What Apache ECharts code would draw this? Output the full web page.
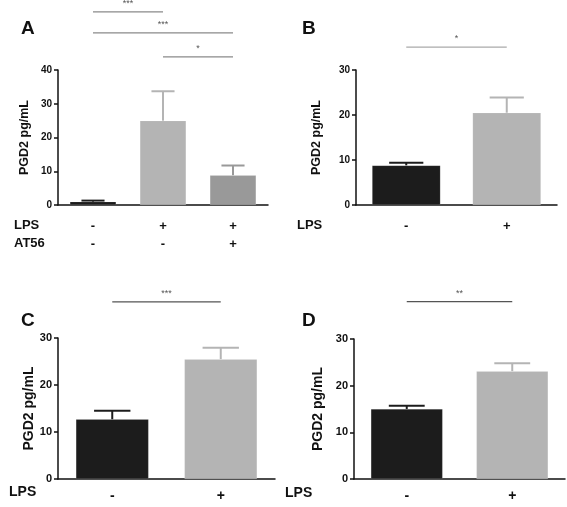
<!DOCTYPE html>
<html><head><meta charset="utf-8">
<script src="https://cdn.jsdelivr.net/npm/echarts@6/dist/echarts.min.js"></script>
<style>html,body{margin:0;padding:0;background:#fff}#c{width:567px;height:507px}</style>
</head><body><div id="c"></div>
<script>
// ---- data ----
var A_lps = ['-', '+', '+'];
var A_at56 = ['-', '-', '+'];
var A_mean = [1.0, 25.0, 8.8];
var A_err = [0.3, 8.7, 2.9];
var A_sig = [[0, 1, 57.2, '***'], [0, 1.9, 51.0, '***'], [1, 2, 43.9, '*']];

var B_lps = ['-', '+'];
var B_mean = [8.8, 20.5];
var B_err = [0.6, 3.4];
var B_sig = [[0, 1, 35.1, '*']];

var C_lps = ['-', '+'];
var C_mean = [12.7, 25.5];
var C_err = [1.8, 2.4];
var C_sig = [[0, 1, 37.7, '***']];

var D_lps = ['-', '+'];
var D_mean = [15.0, 23.1];
var D_err = [0.7, 1.7];
var D_sig = [[0, 1, 38.0, '**']];

var DARK = '#1c1c1c', LIGHT = '#b4b4b4', MID = '#999999';
var A_colors = [DARK, LIGHT, MID];
var BCD_colors = [DARK, LIGHT];

var FONT = '"Liberation Sans", Arial, sans-serif';

var panels = [
  {lab: 'A', cats: A_lps.map(function (l, i) { return l + '\n' + A_at56[i]; }), mean: A_mean, err: A_err, sig: A_sig, colors: A_colors,
   max: 40, grid: {left: 58, top: 70, width: 210, height: 135}, fs: 10, nfs: 12.5, nameGap: 27, lfs: 13, lm: 12, sigColor: '#8a8a8a', bw: '66%', rows: ['LPS', 'AT56'], rowX: 14, rowY: 225},
  {lab: 'B', cats: B_lps, mean: B_mean, err: B_err, sig: B_sig, colors: BCD_colors,
   max: 30, grid: {left: 356, top: 70, width: 201, height: 135}, fs: 10, nfs: 12.5, nameGap: 33, lfs: 13, lm: 12, sigColor: '#aaaaaa', bw: '68%', rows: ['LPS'], rowX: 297, rowY: 225},
  {lab: 'C', cats: C_lps, mean: C_mean, err: C_err, sig: C_sig, colors: BCD_colors,
   max: 30, grid: {left: 58, top: 338, width: 217, height: 141}, fs: 11, nfs: 14, nameGap: 22, lfs: 14, lm: 8, sigColor: '#555555', bw: '67%', rows: ['LPS'], rowX: 9, rowY: 492},
  {lab: 'D', cats: D_lps, mean: D_mean, err: D_err, sig: D_sig, colors: BCD_colors,
   max: 30, grid: {left: 354, top: 339, width: 211, height: 140}, fs: 11, nfs: 14, nameGap: 29, lfs: 14, lm: 8, sigColor: '#555555', bw: '68%', rows: ['LPS'], rowX: 285, rowY: 493}
];
var panelPos = [[21, 19], [302, 19], [21, 311], [302, 311]];

var grids = [], xAxes = [], yAxes = [], series = [], graphics = [];
panels.forEach(function (p, k) {
  grids.push(p.grid);
  xAxes.push({
    type: 'category', gridIndex: k, data: p.cats,
    axisLine: {lineStyle: {color: '#111', width: 1.5}},
    axisTick: {alignWithLabel: true, length: 4, lineStyle: {color: '#111', width: 1.5}},
    axisLabel: {color: '#111', fontWeight: 'bold', fontSize: p.lfs, fontFamily: FONT, lineHeight: 18, margin: p.lm, interval: 0}
  });
  yAxes.push({
    type: 'value', gridIndex: k, min: 0, max: p.max, interval: 10,
    name: 'PGD2 pg/mL', nameLocation: 'middle', nameGap: p.nameGap, nameRotate: 90,
    nameTextStyle: {color: '#111', fontWeight: 'bold', fontSize: p.nfs, fontFamily: FONT},
    axisLine: {show: true, lineStyle: {color: '#111', width: 1.5}},
    axisTick: {show: true, length: 4, lineStyle: {color: '#111', width: 1.5}},
    axisLabel: {color: '#111', fontWeight: 'bold', fontSize: p.fs, fontFamily: FONT, margin: 6},
    splitLine: {show: false}
  });
  series.push({
    type: 'bar', xAxisIndex: k, yAxisIndex: k, barWidth: p.bw, z: 2,
    data: p.mean.map(function (v, i) { return {value: v, itemStyle: {color: p.colors[i]}}; }),
    itemStyle: {borderColor: 'rgba(255,255,255,0.25)', borderWidth: 0.5},
    silent: true
  });
  series.push({
    type: 'custom', xAxisIndex: k, yAxisIndex: k, z: 1, silent: true,
    data: p.mean.map(function (v, i) { return [i, v, p.err[i]]; }),
    renderItem: function (params, api) {
      var i = api.value(0), m = api.value(1), e = api.value(2);
      var c = p.colors[i];
      var top = api.coord([i, m + e]);
      var base = api.coord([i, m]);
      var bw = api.size([1, 0])[0] * parseFloat(p.bw) / 100;
      var half = bw / 4;
      return {type: 'group', children: [
        {type: 'line', shape: {x1: top[0], y1: base[1], x2: top[0], y2: top[1]}, style: {stroke: c, lineWidth: 2}},
        {type: 'line', shape: {x1: top[0] - half, y1: top[1], x2: top[0] + half, y2: top[1]}, style: {stroke: c, lineWidth: 2}}
      ]};
    }
  });
  series.push({
    type: 'custom', xAxisIndex: k, yAxisIndex: k, clip: false, silent: true, z: 3,
    data: p.sig,
    renderItem: function (params, api) {
      var a = api.coord([api.value(0), api.value(2)]);
      var b = api.coord([api.value(1), api.value(2)]);
      var s = p.sig[params.dataIndex][3];
      return {type: 'group', children: [
        {type: 'line', shape: {x1: a[0], y1: a[1], x2: b[0], y2: b[1]}, style: {stroke: p.sigColor, lineWidth: 1.2}},
        {type: 'text', x: (a[0] + b[0]) / 2, y: a[1] - 4, style: {text: s, fill: '#555', fontSize: 9, fontFamily: FONT, align: 'center', verticalAlign: 'bottom'}}
      ]};
    }
  });
  graphics.push({type: 'text', left: panelPos[k][0], top: panelPos[k][1],
    style: {text: p.lab, fontSize: 19, fontWeight: 'bold', fill: '#111', fontFamily: FONT}});
  p.rows.forEach(function (r, j) {
    graphics.push({type: 'text', x: p.rowX, y: p.rowY + j * 18,
      style: {text: r, fontSize: p.lfs, fontWeight: 'bold', fill: '#111', fontFamily: FONT, verticalAlign: 'middle', align: 'left'}});
  });
});

var chart = echarts.init(document.getElementById('c'), null, {renderer: 'canvas'});
chart.setOption({
  animation: false,
  backgroundColor: '#fff',
  grid: grids, xAxis: xAxes, yAxis: yAxes, series: series, graphic: graphics
});
</script>
</body></html>
